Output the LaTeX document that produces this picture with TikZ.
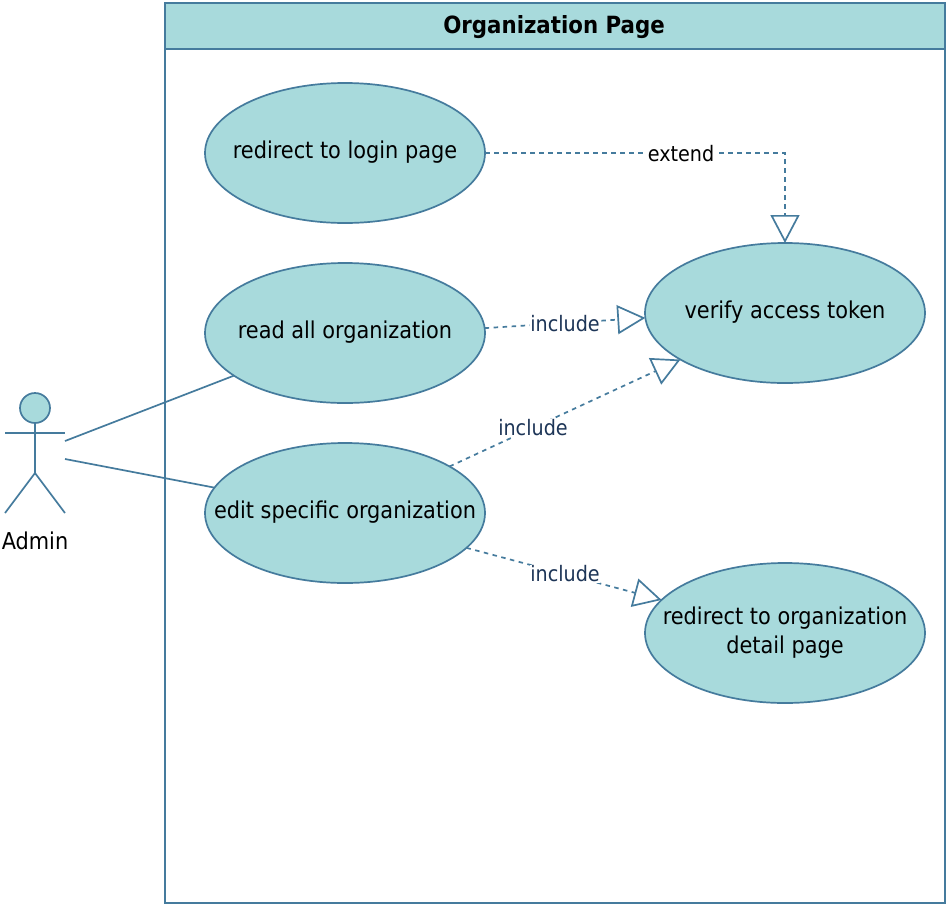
\documentclass[tikz,border=0pt]{standalone}
\usepackage{fontspec}
\setmainfont{DejaVu Sans Condensed}
\usetikzlibrary{shapes.geometric,arrows.meta}
\definecolor{stroke}{HTML}{457B9D}
\definecolor{pale}{HTML}{A8DADC}
\definecolor{lab}{HTML}{1D3557}
\newcommand{\bodysize}{\fontsize{23.2}{29.5}\selectfont}
\newcommand{\labelsize}{\fontsize{21.3}{26}\selectfont}
\newcommand{\mytext}[1]{\makebox[0pt]{\bodysize\begin{tabular}{@{}c@{}}#1\end{tabular}}}
\tikzset{
  usecase/.style={ellipse,draw=stroke,fill=pale,minimum width=280pt,minimum height=140pt,inner sep=0pt,outer sep=0pt,text=black},
  assoc/.style={draw=stroke},
  depend/.style={draw=stroke,dash pattern=on 4.5pt off 4.5pt,-{Triangle[open,length=28pt,width=29pt]}},
  edgelabel/.style={fill=white,inner sep=0.5pt,text=lab,font=\labelsize},
  limb/.style={draw=stroke}
}
\begin{document}
\begin{tikzpicture}[x=1pt,y=-1pt,line width=1.7pt]
\useasboundingbox (0,0) rectangle (948,906);
% frame
\node[draw=stroke,fill=white,minimum width=780pt,minimum height=900pt,inner sep=0pt,outer sep=0pt,anchor=north west] (frame) at (165,3) {};
\node[draw=stroke,fill=pale,minimum width=780pt,minimum height=46pt,inner sep=0pt,outer sep=0pt,anchor=north west] (title) at (165,3) {};
\node[font=\fontsize{23.7}{28}\selectfont\bfseries,text=black] (titletext) at (554,27) {Organization Page};
% use cases
\node[usecase] (login) at (345,153) {\mytext{redirect to login page}};
\node[usecase] (read) at (345,333) {\mytext{read all organization}};
\node[usecase] (edit) at (345,513) {\mytext{edit specific organization}};
\node[usecase] (verify) at (785,313) {\mytext{verify access token}};
\node[usecase] (detail) at (785,633) {\mytext{redirect to organization\\detail page}};
% actor
\node[circle,draw=stroke,fill=pale,minimum size=30pt,inner sep=0pt,outer sep=0pt] (head) at (35,408) {};
\coordinate (armL) at (5,433);
\coordinate (armR) at (65,433);
\coordinate (hip) at (35,473);
\coordinate (footL) at (5,513);
\coordinate (footR) at (65,513);
\draw[limb] (head.south) -- (hip);
\draw[limb] (armL) -- (armR);
\draw[limb] (footL) -- (hip) -- (footR);
\node[font=\bodysize,text=black] (admin) at (35,541) {Admin};
\coordinate (actorA) at (65,441);
\coordinate (actorB) at (65,459);
\draw[assoc] (actorA) -- (read.201.3);
\draw[assoc] (actorB) -- (edit.169.2);
% dependencies
\draw[depend] (login.east) -| (verify.north);
\node[edgelabel,text=black] (lext) at (681,154) {extend};
\draw[depend] (read.2.45) -- (verify.182.45);
\node[edgelabel] (lread) at (565,324) {include};
\draw[depend] (edit.24.8) -- (verify.204.3);
\node[edgelabel] (ledit) at (533,428) {include};
\draw[depend] (edit.344.5) -- (detail.165.4);
\node[edgelabel] (ldetail) at (565,574) {include};
\end{tikzpicture}
\end{document}
